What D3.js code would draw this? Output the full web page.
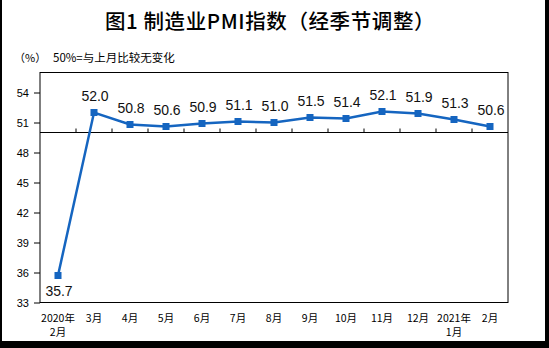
<!DOCTYPE html>
<html><head><meta charset="utf-8">
<script src="https://cdn.jsdelivr.net/npm/d3@7"></script>
<style>html,body{margin:0;padding:0;background:#fff;}svg{display:block;}</style>
</head><body>
<script>
const categories = ["2020年|2月","3月","4月","5月","6月","7月","8月","9月","10月","11月","12月","2021年|1月","2月"];
const pmiValues = [35.7,52.0,50.8,50.6,50.9,51.1,51.0,51.5,51.4,52.1,51.9,51.3,50.6];
const yTicks = [33,36,39,42,45,48,51,54];
const titleText = "图1 制造业PMI指数（经季节调整）";
const unitText = "（%）";
const noteText = "50%=与上月比较无变化";

(function () {
const W = 549, H = 348;
const svg = d3.select("body").append("svg").attr("width", W).attr("height", H);
svg.append("rect").attr("width", W).attr("height", H).attr("fill", "#fff");

const pLeft = 40, pRight = 508, pTop = 72.5, pBottom = 302.5;
const x = d3.scaleBand().domain(categories).range([pLeft, pRight]).padding(0);
const y = d3.scaleLinear().domain([33, 56]).range([pBottom, pTop]);
const cjk = "'Noto Sans CJK SC', 'Noto Sans', sans-serif";
const latin = "'Liberation Sans', Arial, sans-serif";

// title
svg.append("text").attr("x", 270).attr("y", 29).attr("text-anchor", "middle")
  .attr("font-family", cjk).attr("font-size", 20.5).attr("font-weight", 500).attr("fill", "#000")
  .attr("letter-spacing", 0.6)
  .text(titleText);
svg.append("text").attr("x", 14).attr("y", 62).attr("font-family", cjk).attr("font-size", 11).attr("fill", "#000").text(unitText);
svg.append("text").attr("x", 53).attr("y", 62).attr("font-family", cjk).attr("font-size", 11.5).attr("fill", "#000").text(noteText);

// frame
svg.append("rect").attr("x", pLeft).attr("y", pTop).attr("width", pRight - pLeft).attr("height", pBottom - pTop)
  .attr("fill", "none").attr("stroke", "#000").attr("stroke-width", 1);

// y axis
const yAxis = d3.axisLeft(y).tickValues(yTicks).tickSize(6).tickPadding(5).tickFormat(d3.format("d"));
const gy = svg.append("g").attr("transform", `translate(${pLeft},0)`).call(yAxis);
gy.select(".domain").remove();
gy.selectAll("line").attr("stroke", "#000");
gy.selectAll("text").attr("font-family", latin).attr("font-size", 11).attr("fill", "#000");

// x axis at y=50
const y50 = y(50);
svg.append("line").attr("x1", pLeft).attr("x2", pRight).attr("y1", y50).attr("y2", y50).attr("stroke", "#000");
const bounds = categories.slice(1).map(c => x(c));
svg.selectAll(".xt").data(bounds).enter().append("line")
  .attr("x1", d => d).attr("x2", d => d).attr("y1", y50).attr("y2", y50 - 4).attr("stroke", "#000");

// x labels
const xl = svg.selectAll(".xl").data(categories).enter().append("text")
  .attr("text-anchor", "middle").attr("font-family", cjk).attr("font-size", 10.5).attr("fill", "#000");
xl.each(function(d) {
  const parts = d.split("|");
  const t = d3.select(this);
  parts.forEach((p, i) => {
    t.append("tspan").attr("x", x(d) + x.bandwidth() / 2).attr("y", 322 + i * 14).text(p);
  });
});

// line
const color = "#1565c0";
const line = d3.line().x((d, i) => x(categories[i]) + x.bandwidth() / 2).y(d => y(d));
svg.append("path").datum(pmiValues).attr("d", line).attr("fill", "none")
  .attr("stroke", color).attr("stroke-width", 2.5);
svg.selectAll(".mk").data(pmiValues).enter().append("rect")
  .attr("x", (d, i) => x(categories[i]) + x.bandwidth() / 2 - 3.5)
  .attr("y", d => y(d) - 3.5).attr("width", 7).attr("height", 7).attr("fill", color);

// data labels
svg.selectAll(".lb").data(pmiValues).enter().append("text")
  .attr("x", (d, i) => x(categories[i]) + x.bandwidth() / 2 + 1)
  .attr("y", d => d < 50 ? y(d) + 20 : y(d) - 12)
  .attr("text-anchor", "middle").attr("font-family", latin).attr("font-size", 14).attr("fill", "#111")
  .text(d => d.toFixed(1));

// black borders
svg.append("rect").attr("x", 0).attr("y", 0).attr("width", 2).attr("height", H).attr("fill", "#000");
svg.append("rect").attr("x", 545).attr("y", 0).attr("width", 4).attr("height", H).attr("fill", "#000");
svg.append("rect").attr("x", 0).attr("y", 341).attr("width", W).attr("height", 7).attr("fill", "#000");
})();
</script>
</body></html>
